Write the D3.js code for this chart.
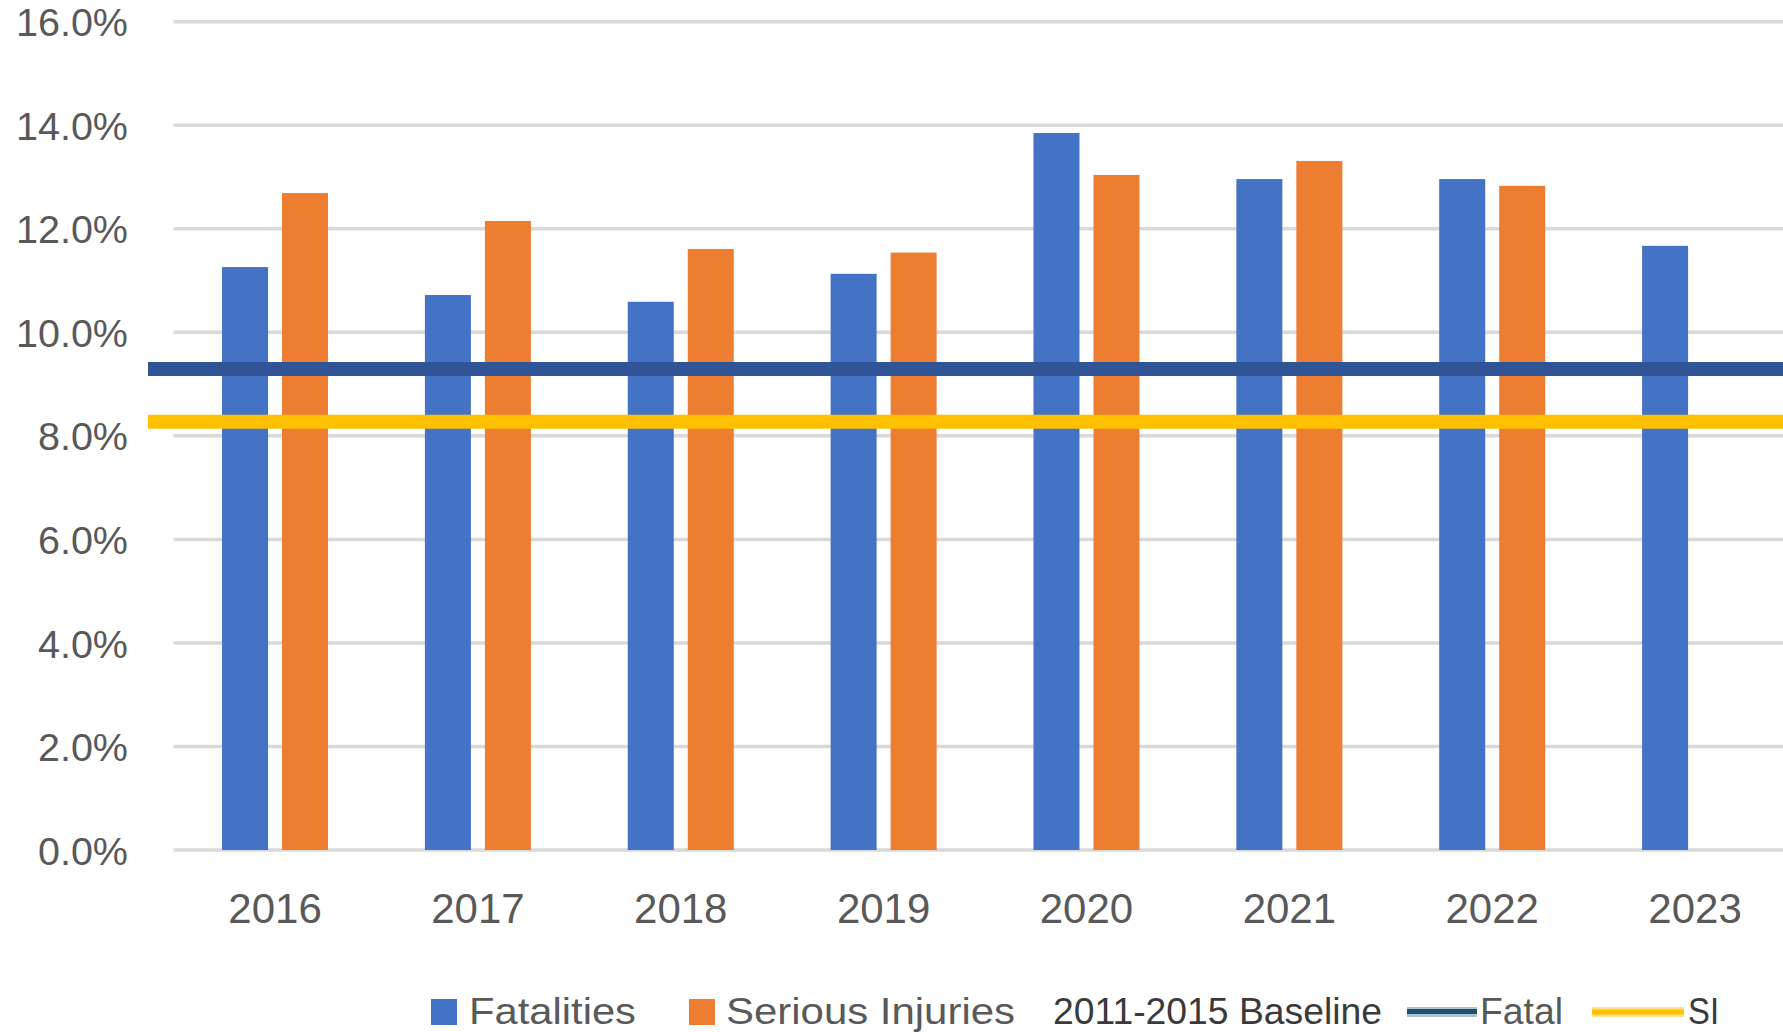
<!DOCTYPE html>
<html>
<head>
<meta charset="utf-8">
<script src="https://cdn.jsdelivr.net/npm/d3@7"></script>
<style>
  html, body { margin: 0; padding: 0; background: #ffffff; }
  svg { display: block; }
  text { font-family: "Liberation Sans", Arial, sans-serif; }
</style>
</head>
<body>
<svg id="chart" width="1783" height="1032"></svg>
<script>
// ---- data ----
const years = ["2016", "2017", "2018", "2019", "2020", "2021", "2022", "2023"];
const fatalities = [11.26, 10.72, 10.59, 11.13, 13.85, 12.96, 12.96, 11.67];
const seriousInjuries = [12.69, 12.15, 11.61, 11.54, 13.04, 13.31, 12.83, null];
const baselineFatal = 9.29;
const baselineSI = 8.27;
const yTicks = [0, 2, 4, 6, 8, 10, 12, 14, 16];
const legendLabels = ["Fatalities", "Serious Injuries", "2011-2015 Baseline", "Fatal", "SI"];

// ---- layout ----
const W = 1783, H = 1032;
const svg = d3.select("#chart");
svg.append("rect").attr("width", W).attr("height", H).attr("fill", "#ffffff");

const x = d3.scaleBand().domain(years).range([173.6, 1796.5]).paddingInner(0).paddingOuter(0);
const y = d3.scaleLinear().domain([0, 16]).range([850, 21.7]);

const barW = 46, barGap = 14;
const colFat = "#4472C4", colSI = "#ED7D31";

// gridlines
svg.append("g").selectAll("line").data(yTicks).join("line")
  .attr("x1", 173.6).attr("x2", W)
  .attr("y1", d => y(d)).attr("y2", d => y(d))
  .attr("stroke", "#D9D9D9").attr("stroke-width", 3.5);

// y axis labels
const yAxis = d3.axisLeft(y).tickValues(yTicks).tickFormat(d => d3.format(".1f")(d) + "%").tickSize(0).tickPadding(0);
const yg = svg.append("g").attr("transform", "translate(128,1.5)").call(yAxis);
yg.select(".domain").remove();
yg.selectAll("text").attr("font-size", 39.5).attr("fill", "#595959")
  .attr("font-family", "'Liberation Sans', Arial, sans-serif");

// x axis labels
const xAxis = d3.axisBottom(x).tickSize(0).tickPadding(0);
const xg = svg.append("g").attr("transform", "translate(0,893)").call(xAxis);
xg.select(".domain").remove();
xg.selectAll("text").attr("font-size", 42).attr("fill", "#595959")
  .attr("dy", "0.71em")
  .attr("font-family", "'Liberation Sans', Arial, sans-serif");

// bars
const groupW = barW * 2 + barGap;
const bars = svg.append("g");
bars.selectAll("rect.fat").data(years).join("rect")
  .attr("class", "fat")
  .attr("x", d => x(d) + x.bandwidth() / 2 - groupW / 2)
  .attr("width", barW)
  .attr("y", (d, i) => y(fatalities[i]))
  .attr("height", (d, i) => y(0) - y(fatalities[i]))
  .attr("fill", colFat);
bars.selectAll("rect.si").data(years.filter((d, i) => seriousInjuries[i] != null)).join("rect")
  .attr("class", "si")
  .attr("x", d => x(d) + x.bandwidth() / 2 - groupW / 2 + barW + barGap)
  .attr("width", barW)
  .attr("y", d => y(seriousInjuries[years.indexOf(d)]))
  .attr("height", d => y(0) - y(seriousInjuries[years.indexOf(d)]))
  .attr("fill", colSI);

// baseline lines
svg.append("line").attr("x1", 148).attr("x2", W)
  .attr("y1", y(baselineFatal)).attr("y2", y(baselineFatal))
  .attr("stroke", "#2F5597").attr("stroke-width", 14);
svg.append("line").attr("x1", 148).attr("x2", W)
  .attr("y1", y(baselineSI)).attr("y2", y(baselineSI))
  .attr("stroke", "#FFC000").attr("stroke-width", 14);

// legend
const lg = svg.append("g");
const ly = 1024;
const fs = 36;
lg.append("rect").attr("x", 431).attr("y", 999).attr("width", 26).attr("height", 26).attr("fill", colFat);
lg.append("text").attr("x", 469).attr("y", ly).attr("font-size", fs).attr("fill", "#595959")
  .attr("textLength", 167).attr("lengthAdjust", "spacingAndGlyphs").text(legendLabels[0]);
lg.append("rect").attr("x", 689).attr("y", 999).attr("width", 26).attr("height", 26).attr("fill", colSI);
lg.append("text").attr("x", 726).attr("y", ly).attr("font-size", fs).attr("fill", "#595959")
  .attr("textLength", 289).attr("lengthAdjust", "spacingAndGlyphs").text(legendLabels[1]);
lg.append("text").attr("x", 1053).attr("y", ly).attr("font-size", fs).attr("fill", "#3a3a3a")
  .attr("textLength", 329).attr("lengthAdjust", "spacingAndGlyphs").text(legendLabels[2]);
lg.append("line").attr("x1", 1407).attr("x2", 1477).attr("y1", 1012).attr("y2", 1012)
  .attr("stroke", "#aec2cf").attr("stroke-width", 10);
lg.append("line").attr("x1", 1407).attr("x2", 1477).attr("y1", 1011.5).attr("y2", 1011.5)
  .attr("stroke", "#1f4f6e").attr("stroke-width", 5);
lg.append("text").attr("x", 1480).attr("y", ly).attr("font-size", fs).attr("fill", "#595959")
  .attr("textLength", 83).attr("lengthAdjust", "spacingAndGlyphs").text(legendLabels[3]);
lg.append("line").attr("x1", 1592).attr("x2", 1684).attr("y1", 1012).attr("y2", 1012)
  .attr("stroke", "#FFE08A").attr("stroke-width", 10);
lg.append("line").attr("x1", 1592).attr("x2", 1684).attr("y1", 1012).attr("y2", 1012)
  .attr("stroke", "#FFC000").attr("stroke-width", 5);
lg.append("text").attr("x", 1688).attr("y", ly).attr("font-size", fs).attr("fill", "#3a3a3a")
  .attr("textLength", 31).attr("lengthAdjust", "spacingAndGlyphs").text(legendLabels[4]);
</script>
</body>
</html>
